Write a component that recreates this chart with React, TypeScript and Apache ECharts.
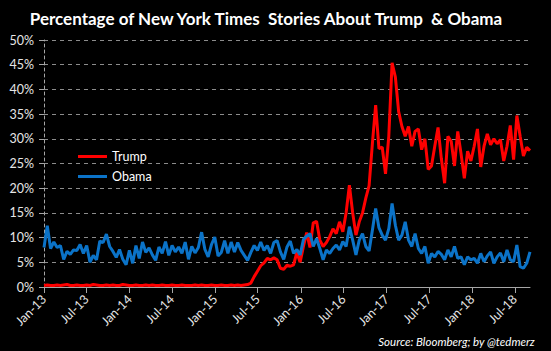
import React, { useEffect, useRef } from "react";
import * as echarts from "echarts";

const startDate = "2013-01-01";
const stepDays = 14;

const trumpValues = [
  0.3, 0.4, 0.3, 0.3, 0.4, 0.3, 0.4, 0.5, 0.3, 0.3,
  0.4, 0.3, 0.3, 0.4, 0.3, 0.5, 0.4, 0.3, 0.3, 0.4,
  0.3, 0.4, 0.3, 0.3, 0.5, 0.4, 0.3, 0.3, 0.4, 0.3,
  0.3, 0.4, 0.3, 0.4, 0.3, 0.3, 0.4, 0.3, 0.3, 0.4,
  0.3, 0.3, 0.4, 0.3, 0.3, 0.3, 0.4, 0.3, 0.4, 0.3,
  0.3, 0.4, 0.3, 0.3, 0.4, 0.3, 0.3, 0.4, 0.3, 0.4,
  0.3, 0.4, 0.5, 0.8, 2.1, 3.2, 4.3, 4.9, 5.8, 5.5,
  5.9, 5.5, 3.8, 3.6, 4.4, 4.2, 4.5, 7.0, 5.0, 8.2,
  11.0, 8.0, 13.0, 13.3, 9.5, 8.2, 9.0, 10.2, 11.8, 10.8,
  13.2, 11.2, 15.0, 20.6, 15.0, 10.5, 13.2, 15.0, 18.0, 20.5,
  29.0, 36.8, 28.0, 28.3, 22.9, 30.5, 45.4, 42.5, 35.5, 32.5,
  30.5, 32.5, 28.5, 31.5, 32.0, 27.8, 30.0, 23.8, 24.5, 28.5,
  32.3, 26.0, 21.0, 30.5, 29.5, 24.5, 31.5, 27.0, 22.0, 27.5,
  25.5, 28.5, 32.0, 24.3, 28.5, 31.0, 28.8, 30.0, 29.0, 29.8,
  25.5, 28.5, 32.7, 25.8, 34.7, 30.5, 26.5, 28.3, 27.6,
];

const obamaValues = [
  8.0, 12.4, 7.8, 9.1, 8.0, 8.4, 5.6, 7.2, 6.6, 7.5,
  7.4, 8.6, 6.8, 8.4, 5.0, 6.4, 5.5, 9.3, 9.0, 10.7,
  8.2, 7.2, 6.0, 7.6, 5.6, 4.5, 7.4, 4.8, 8.4, 5.8,
  9.1, 7.0, 7.9, 6.5, 5.4, 8.1, 6.8, 9.2, 6.4, 8.4,
  7.1, 8.1, 6.8, 9.1, 5.6, 8.2, 6.9, 8.0, 11.1, 7.6,
  6.1, 8.6, 10.1, 6.3, 7.0, 9.4, 6.8, 9.1, 7.1, 9.0,
  7.4, 6.4, 5.4, 7.0, 8.4, 7.4, 9.1, 7.4, 8.4, 6.8,
  9.0, 9.4, 7.1, 5.6, 8.1, 9.3, 6.8, 7.6, 6.5, 9.6,
  10.3, 10.8, 8.2, 9.8, 7.8, 5.5, 7.5, 6.8, 7.8, 8.5,
  7.5, 9.2, 8.2, 12.2, 9.5, 6.5, 9.5, 10.8, 8.2, 7.3,
  11.5, 15.9, 12.0, 10.5, 9.5, 11.8, 16.9, 12.5, 9.5, 10.5,
  13.2, 9.5, 8.2, 10.8, 7.8, 6.8, 8.2, 4.8, 6.8, 6.1,
  7.2, 6.6, 5.5, 7.5, 6.1, 8.2, 5.8, 6.1, 4.5, 6.1,
  5.5, 5.8, 4.8, 6.8, 5.1, 6.3, 7.1, 4.8, 6.1, 6.9,
  5.1, 7.5, 5.5, 5.1, 8.5, 4.1, 3.8, 4.8, 7.1,
];

const tickDates = [
  "2013-01-01", "2013-07-01", "2014-01-01", "2014-07-01",
  "2015-01-01", "2015-07-01", "2016-01-01", "2016-07-01",
  "2017-01-01", "2017-07-01", "2018-01-01", "2018-07-01",
];
const monthNames = ["Jan", "Feb", "Mar", "Apr", "May", "Jun", "Jul", "Aug", "Sep", "Oct", "Nov", "Dec"];

const titleText = "Percentage of New York Times  Stories About Trump  & Obama";
const sourceText = "Source: Bloomberg; by @tedmerz";

const DAY = 86400000;
const t0 = Date.parse(startDate + "T00:00:00Z");
const toSeries = (vals: number[]) => vals.map((v, i) => [t0 + i * stepDays * DAY, v]);
const tickValues = tickDates.map((d) => Date.parse(d + "T00:00:00Z"));

const FONT = "Lato, 'Open Sans', sans-serif";

export default function App() {
  const ref = useRef<HTMLDivElement>(null);
  useEffect(() => {
    if (!ref.current) return;
    const chart = echarts.init(ref.current, undefined, { renderer: "svg" });
    const lastT = t0 + (Math.max(trumpValues.length, obamaValues.length) - 1) * stepDays * DAY;
    chart.setOption({
      animation: false,
      backgroundColor: "#000000",
      textStyle: { fontFamily: FONT },
      title: {
        text: titleText,
        left: 261,
        textAlign: "center",
        top: 5,
        textStyle: { color: "#ffffff", fontSize: 17, fontWeight: "bold", fontFamily: FONT },
      },
      legend: {
        data: ["Trump", "Obama"],
        orient: "vertical",
        left: 73,
        top: 145,
        itemWidth: 29,
        itemHeight: 3,
        itemGap: 7,
        icon: "rect",
        textStyle: { color: "#ffffff", fontSize: 12.5, fontFamily: FONT },
      },
      grid: { left: 44, right: 21, top: 40, bottom: 64, containLabel: false },
      xAxis: {
        type: "value",
        min: t0,
        max: lastT,
        scale: true,
        splitLine: { show: false },
        axisLine: { show: true, lineStyle: { color: "#a6a6a6", width: 1 } },
        axisTick: { show: true, length: 6, customValues: tickValues, lineStyle: { color: "#a6a6a6" } },
        axisLabel: {
          customValues: tickValues,
          rotate: 45,
          margin: 10,
          color: "#e6e6e6",
          fontSize: 12.5,
          fontFamily: FONT,
          formatter: (v: number) => {
            const d = new Date(v);
            return monthNames[d.getUTCMonth()] + "-" + String(d.getUTCFullYear()).slice(2);
          },
        },
      },
      yAxis: {
        type: "value",
        min: 0,
        max: 50,
        interval: 5,
        axisLine: { show: true, lineStyle: { color: "#a6a6a6", type: [3, 3] } },
        axisTick: { show: true, length: 5, lineStyle: { color: "#a6a6a6" } },
        splitLine: { show: true, lineStyle: { color: "#8c8c8c", type: [4, 4], width: 1 } },
        axisLabel: { color: "#e6e6e6", fontSize: 12.5, margin: 10, fontFamily: FONT, formatter: (v: number) => v + "%" },
      },
      series: [
        {
          name: "Trump",
          type: "line",
          data: toSeries(trumpValues),
          showSymbol: false,
          symbol: "none",
          lineStyle: { color: "#ff0000", width: 3 },
          itemStyle: { color: "#ff0000" },
        },
        {
          name: "Obama",
          type: "line",
          data: toSeries(obamaValues),
          showSymbol: false,
          symbol: "none",
          lineStyle: { color: "#0b73c8", width: 3 },
          itemStyle: { color: "#0b73c8" },
        },
      ],
      graphic: [
        {
          type: "text",
          right: 16,
          top: 335,
          style: { text: sourceText, fill: "#ffffff", fontSize: 11.5, fontStyle: "italic", fontFamily: FONT },
        },
      ],
    });
    return () => chart.dispose();
  }, []);
  return (
    <div
      ref={ref}
      style={{ position: "absolute", left: 0, top: 0, width: 551, height: 351, background: "#000" }}
    />
  );
}
